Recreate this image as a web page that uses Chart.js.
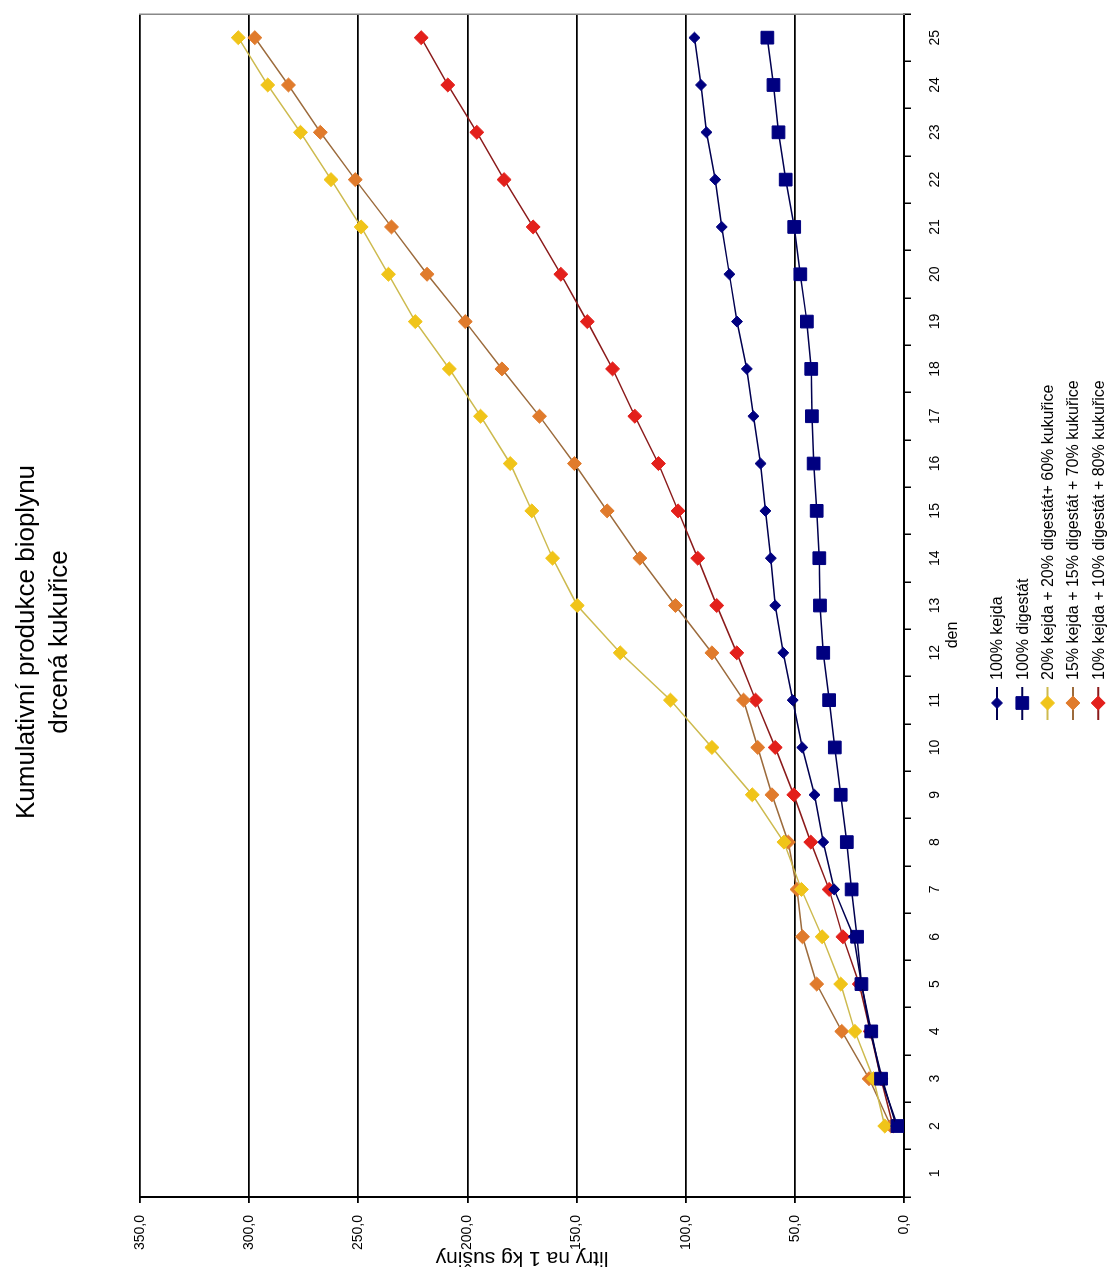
<!DOCTYPE html>
<html>
<head>
<meta charset="utf-8">
<script src="https://cdn.jsdelivr.net/npm/chart.js@4.4.1/dist/chart.umd.min.js"></script>
<style>
  html, body { margin: 0; padding: 0; background: #fff; overflow: hidden; }
  body { width: 1114px; height: 1270px; position: relative; }
  /* the chart is drawn upright and then turned a quarter to the left, like the scan */
  #wrap {
    position: absolute; left: 0; top: 0;
    width: 1308px; height: 1114px;
    transform-origin: 0 0;
    transform: translate(0px, 1270px) rotate(-90deg);
  }
</style>
</head>
<body>
<div id="wrap"><canvas id="myChart" width="1308" height="1114"></canvas></div>
<script>
// days on the x axis
const days = ['1','2','3','4','5','6','7','8','9','10','11','12','13','14','15','16','17','18','19','20','21','22','23','24','25'];

// litry na 1 kg sušiny, day 1 has no value
const kejda100 = [null, 3.6, 10, 15.5, 19.5, 23, 32, 37, 41, 46.6, 51, 55.3, 59, 61, 63.5, 65.7, 69, 72, 76.5, 80, 83.5, 86.5, 90.5, 93, 96];
const digestat100 = [null, 3, 10.5, 15, 19.5, 21.5, 24, 26.2, 29, 31.7, 34.3, 37, 38.5, 38.8, 40, 41.4, 42.2, 42.5, 44.5, 47.5, 50.3, 54.2, 57.5, 59.8, 62.6];
const mix20 = [null, 8.8, 14, 22.5, 29, 37.5, 47, 55, 69.5, 88, 107, 130, 149.7, 161, 170.5, 180.4, 194, 208.3, 223.9, 236.2, 248.7, 262.5, 276.5, 291.5, 305];
const mix15 = [null, 6, 16, 28.5, 40, 46.5, 49, 53, 60.5, 67, 73.5, 88, 104.7, 121, 136, 151, 167, 184.2, 201, 218.5, 234.8, 251.4, 267.4, 282, 297.4];
const mix10 = [null, 5, 10.5, 15.5, 20.5, 28, 34.3, 42.7, 50.5, 59, 68, 76.6, 85.8, 94.5, 103.5, 112.5, 123.3, 133.5, 145.1, 157.2, 169.9, 183.2, 195.7, 209, 221.2];

const seriesNames = [
    '100% kejda',
    '100% digestát',
    '20% kejda + 20% digestát+ 60% kukuřice',
    '15% kejda + 15% digestát + 70% kukuřice',
    '10% kejda + 10% digestát + 80% kukuřice'
];

const FONT = "'Liberation Sans', Arial, sans-serif";

function makeSet(label, values, line, fill, style, radius) {
    return {
        label: label,
        data: values,
        borderColor: line,
        backgroundColor: fill,
        borderWidth: 1.5,
        pointStyle: style,
        pointRadius: radius,
        pointHoverRadius: radius,
        pointBackgroundColor: fill,
        pointBorderColor: fill,
        pointBorderWidth: 1,
        tension: 0
    };
}

// legend is a single column under the axis, so draw it by hand
// (the "den" caption sits a bit left of the axis middle in the original, so it goes here too)
const columnLegend = {
    id: 'columnLegend',
    afterDraw(chart) {
        const ctx = chart.ctx;
        const area = chart.chartArea;
        const x0 = area.left + 477;
        const y0 = area.bottom + 93;
        ctx.save();
        ctx.fillStyle = '#000';
        ctx.font = '16px ' + FONT;
        ctx.textAlign = 'center';
        ctx.textBaseline = 'middle';
        ctx.fillText('den', area.left + 562, area.bottom + 49);

        ctx.textAlign = 'left';
        chart.data.datasets.forEach((ds, i) => {
            const y = y0 + i * 25.3;
            ctx.strokeStyle = ds.borderColor;
            ctx.lineWidth = 2;
            ctx.beginPath();
            ctx.moveTo(x0, y);
            ctx.lineTo(x0 + 33, y);
            ctx.stroke();
            ctx.fillStyle = ds.pointBackgroundColor;
            ctx.strokeStyle = ds.pointBorderColor;
            ctx.lineWidth = 1;
            Chart.helpers.drawPoint(ctx, {
                pointStyle: ds.pointStyle,
                radius: ds.pointRadius,
                rotation: 0,
                borderWidth: 1
            }, x0 + 17, y);
            ctx.fillStyle = '#000';
            ctx.fillText(ds.label, x0 + 40, y + 1);
        });
        ctx.restore();
    }
};

function generateGraph() {
    const datasets = [
        makeSet(seriesNames[0], kejda100, '#000050', '#000080', 'rectRot', 5.5),
        makeSet(seriesNames[1], digestat100, '#000050', '#000080', 'rect', 9),
        makeSet(seriesNames[2], mix20, '#CDBA4E', '#F0C419', 'rectRot', 7),
        makeSet(seriesNames[3], mix15, '#9C6B3C', '#E07B2C', 'rectRot', 7),
        makeSet(seriesNames[4], mix10, '#8B1A1A', '#E3201B', 'rectRot', 7)
    ];

    const ctx = document.getElementById('myChart').getContext('2d');
    new Chart(ctx, {
        type: 'line',
        data: { labels: days, datasets: datasets },
        plugins: [columnLegend],
        options: {
            responsive: false,
            animation: false,
            devicePixelRatio: 1,
            layout: { padding: { left: 0, right: 52, top: 0, bottom: 151 } },
            plugins: {
                legend: { display: false },
                tooltip: { enabled: false },
                title: {
                    display: true,
                    text: ['Kumulativní produkce bioplynu', 'drcená kukuřice'],
                    color: '#000',
                    font: { family: FONT, size: 26, weight: 'normal', lineHeight: 1.27 },
                    padding: { top: 10, bottom: 64 }
                }
            },
            scales: {
                x: {
                    type: 'category',
                    offset: true,
                    afterFit: s => { s.height = 59; },
                    grid: { drawOnChartArea: false, offset: true, color: '#000', tickLength: 7, lineWidth: 1.5 },
                    border: { color: '#000', width: 2 },
                    ticks: { color: '#000', padding: 15.6, maxRotation: 0, autoSkip: false, font: { family: FONT, size: 14 } },
                    title: { display: false }
                },
                y: {
                    min: 0,
                    max: 350,
                    afterFit: s => { s.width = 73; },
                    grid: { color: '#000', lineWidth: 1.8, tickLength: 6 },
                    border: { color: '#000', width: 2 },
                    ticks: {
                        stepSize: 50,
                        color: '#000',
                        padding: 12,
                        font: { family: FONT, size: 14 },
                        callback: v => v.toFixed(1).replace('.', ',')
                    },
                    title: { display: true, text: 'litry na 1 kg sušiny', color: '#000', padding: { top: 0, bottom: 0 }, font: { family: FONT, size: 21 } }
                },
                y2: {
                    position: 'right',
                    min: 0,
                    max: 350,
                    afterFit: s => { s.width = 0; },
                    grid: { display: false },
                    ticks: { display: false },
                    border: { color: '#888', width: 1.5 }
                }
            }
        }
    });
}

generateGraph();
</script>
</body>
</html>
